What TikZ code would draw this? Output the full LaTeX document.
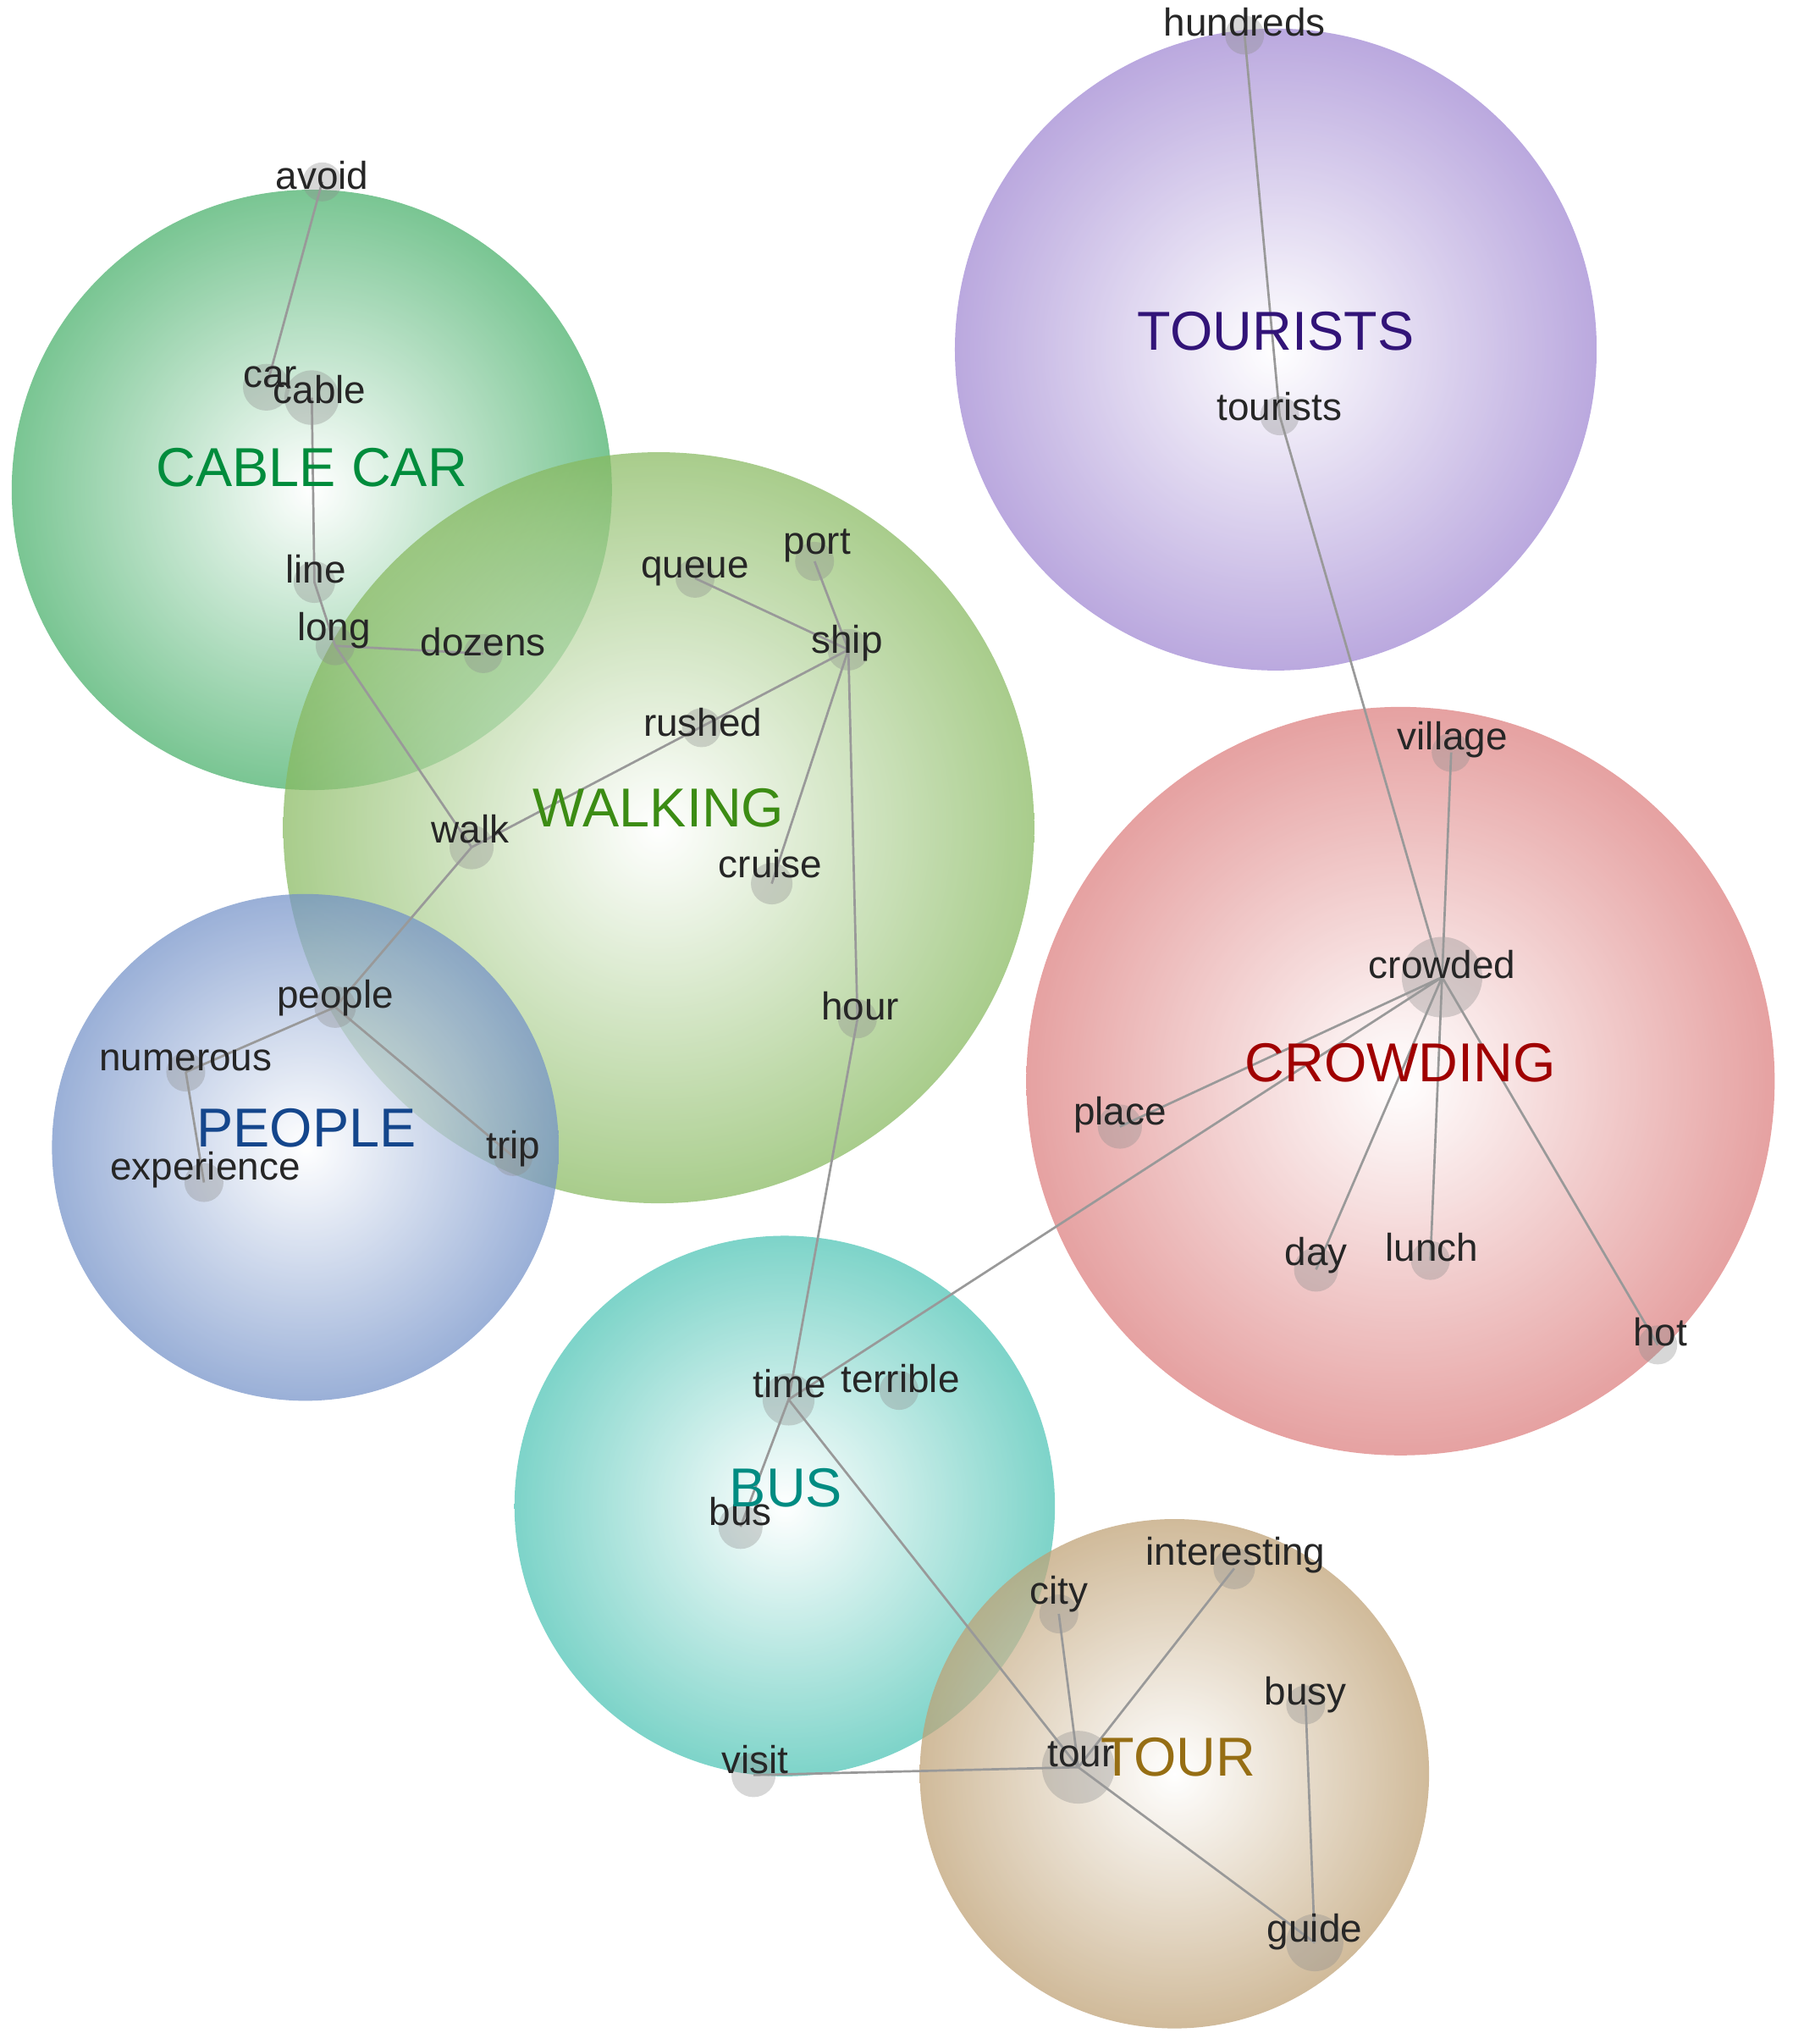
\documentclass[tikz,border=0pt]{standalone}
\usepackage{fontspec}
\setmainfont{Liberation Sans}
\begin{document}
\begin{tikzpicture}[x=0.01cm,y=-0.01cm,
  bub/.style={shading=radial,inner color=white,outer color=#1,fill opacity=0.72,draw=none},
  dot/.style={circle,fill=black!45,fill opacity=0.35,inner sep=0pt,minimum size={#1*0.01cm}},
  dot/.default=30,
  wd/.style={font=\fontsize{8.5}{10}\selectfont,text=black!85,inner sep=0pt},
  cat/.style={font=\fontsize{12}{14}\selectfont,inner sep=0pt},
  edge/.style={draw=black!40,line width=0.5pt}]
\useasboundingbox (0,0) rectangle (1380,1573);
\definecolor{cCab}{RGB}{70,175,105}\definecolor{tCab}{RGB}{0,140,60}
\definecolor{cWal}{RGB}{135,185,95}\definecolor{tWal}{RGB}{60,140,20}
\definecolor{cPeo}{RGB}{115,145,200}\definecolor{tPeo}{RGB}{20,70,140}
\definecolor{cTou}{RGB}{160,135,210}\definecolor{tTou}{RGB}{50,20,120}
\definecolor{cCro}{RGB}{220,125,125}\definecolor{tCro}{RGB}{160,0,0}
\definecolor{cBus}{RGB}{75,195,180}\definecolor{tBus}{RGB}{0,140,130}
\definecolor{cTr}{RGB}{190,160,115}\definecolor{tTr}{RGB}{150,110,20}
% bubbles
\path[bub=cCab] (240,377) circle (231);
\path[bub=cWal] (507,637) circle (289);
\path[bub=cPeo] (235,883) circle (195);
\path[bub=cTou] (982,269) circle (247);
\path[bub=cCro] (1078,832) circle (288);
\path[bub=cBus] (604,1159) circle (208);
\path[bub=cTr] (904,1365) circle (196);
% dots
\node[dot] (avoid) at (248,140) {};
\node[dot=36] (car) at (205,298) {};
\node[dot=42] (cable) at (240,306) {};
\node[dot=32] (line) at (242,448) {};
\node[dot=30] (long) at (258,497) {};
\node[dot] (dozens) at (372,503) {};
\node[dot] (queue) at (535,445) {};
\node[dot] (port) at (627,432) {};
\node[dot=32] (ship) at (653,500) {};
\node[dot] (rushed) at (540,560) {};
\node[dot=34] (walk) at (363,652) {};
\node[dot=32] (cruise) at (594,680) {};
\node[dot] (hour) at (660,784) {};
\node[dot=32] (people) at (258,775) {};
\node[dot] (numerous) at (143,825) {};
\node[dot] (experience) at (157,910) {};
\node[dot] (trip) at (395,890) {};
\node[dot] (hundreds) at (958,27) {};
\node[dot] (tourists) at (985,320) {};
\node[dot] (village) at (1117,579) {};
\node[dot=62] (crowded) at (1110,752) {};
\node[dot=34] (place) at (862,867) {};
\node[dot=34] (day) at (1013,977) {};
\node[dot] (lunch) at (1101,970) {};
\node[dot] (hot) at (1276,1035) {};
\node[dot=40] (time) at (607,1077) {};
\node[dot] (terrible) at (692,1070) {};
\node[dot=34] (bus) at (570,1175) {};
\node[dot=34] (visit) at (580,1366) {};
\node[dot] (city) at (815,1242) {};
\node[dot=32] (interesting) at (950,1207) {};
\node[dot] (busy) at (1005,1312) {};
\node[dot=56] (tour) at (830,1360) {};
\node[dot=44] (guide) at (1012,1495) {};
% edges
\path[edge] (avoid.center)--(car.center) (cable.center)--(line.center) (line.center)--(long.center)
 (long.center)--(dozens.center) (long.center)--(walk.center)
 (walk.center)--(ship.center) (queue.center)--(ship.center) (port.center)--(ship.center)
 (ship.center)--(cruise.center) (ship.center)--(hour.center) (hour.center)--(time.center)
 (walk.center)--(people.center) (people.center)--(numerous.center) (numerous.center)--(experience.center)
 (people.center)--(trip.center)
 (hundreds.center)--(tourists.center) (tourists.center)--(crowded.center) (village.center)--(crowded.center)
 (place.center)--(crowded.center)
 (crowded.center)--(day.center) (crowded.center)--(lunch.center) (crowded.center)--(hot.center)
 (time.center)--(crowded.center)
 (time.center)--(bus.center) (time.center)--(tour.center) (visit.center)--(tour.center)
 (city.center)--(tour.center) (interesting.center)--(tour.center)
 (tour.center)--(guide.center) (busy.center)--(guide.center);
% words
\foreach \t/\x/\y in {avoid/248/135,car/208/290,cable/246/300,line/243/438,long/257/485,dozens/372/494,
 queue/535/440,port/629/420,ship/652/495,rushed/541/556,walk/362/638,cruise/593/665,hour/662/774,
 people/258/768,numerous/143/816,experience/158/900,trip/395/884,hundreds/958/17,tourists/985/313,
 village/1118/569,crowded/1110/742,place/862/858,day/1013/966,lunch/1102/960,hot/1278/1025,
 time/608/1065,terrible/693/1061,bus/570/1163,visit/581/1354,city/815/1227,interesting/951/1197,
 busy/1005/1304,tour/832/1350,guide/1012/1487}
 \node[wd] (w-\t) at (\x,\y) {\t};
% categories
\node[cat,text=tCab] (kCab) at (240,360) {CABLE CAR};
\node[cat,text=tWal] (kWal) at (507,622) {WALKING};
\node[cat,text=tPeo] (kPeo) at (236,868) {PEOPLE};
\node[cat,text=tTou] (kTou) at (982,255) {TOURISTS};
\node[cat,text=tCro] (kCro) at (1078,818) {CROWDING};
\node[cat,text=tBus] (kBus) at (605,1145) {BUS};
\node[cat,text=tTr] (kTr) at (907,1352) {TOUR};
\end{tikzpicture}
\end{document}
